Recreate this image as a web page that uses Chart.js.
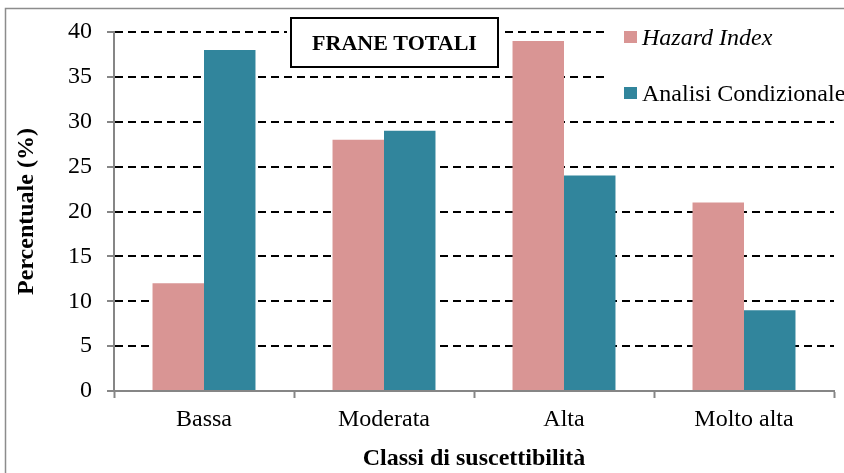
<!DOCTYPE html>
<html>
<head>
<meta charset="utf-8">
<script src="https://cdn.jsdelivr.net/npm/chart.js@4.4.0/dist/chart.umd.min.js"></script>
<style>
  body { margin: 0; background: #fff; }
  canvas { display: block; }
</style>
</head>
<body>
<canvas id="myBarChart" width="844" height="473"></canvas>
<script>
const classi = ["Bassa", "Moderata", "Alta", "Molto alta"];
const hazardIndex = [12, 28, 39, 21];
const analisiCondizionale = [38, 29, 24, 9];
const yTicks = [0, 5, 10, 15, 20, 25, 30, 35, 40];
const chartTitle = "FRANE TOTALI";

const serif = "'Liberation Serif', 'Times New Roman', serif";
Chart.defaults.font.family = serif;
Chart.defaults.font.size = 24;
Chart.defaults.color = "#000";

// grey frame round the whole picture
const framePlugin = {
  id: "frame",
  beforeDraw(chart) {
    const c = chart.ctx;
    c.save();
    c.fillStyle = "#fff";
    c.fillRect(0, 0, chart.width, chart.height);
    c.strokeStyle = "#8c8c8c";
    c.lineWidth = 1.5;
    c.strokeRect(5.5, 8.5, 1000, 1000);
    c.restore();
  }
};

// boxed title and legend inside the plot
const boxesPlugin = {
  id: "boxes",
  afterDraw(chart) {
    const c = chart.ctx;
    c.save();
    // title
    c.fillStyle = "#fff";
    c.fillRect(287, 15, 216, 56);
    c.strokeStyle = "#000";
    c.lineWidth = 2;
    c.strokeRect(291, 18, 207, 49);
    c.fillStyle = "#000";
    c.font = "bold 22px " + serif;
    c.textAlign = "center";
    c.textBaseline = "alphabetic";
    c.fillText(chartTitle, 394.5, 49.5);

    // legend
    c.fillStyle = "#fff";
    c.fillRect(605, 18, 239, 94);
    const styles = ["italic", "normal"];
    const rows = [45, 101];
    c.textAlign = "left";
    chart.data.datasets.forEach((ds, i) => {
      c.fillStyle = ds.backgroundColor;
      c.fillRect(624, rows[i] - 14, 13, 12);
      c.fillStyle = "#000";
      c.font = styles[i] + " 24px " + serif;
      c.fillText(ds.label, 642, rows[i]);
    });
    c.restore();
  }
};

const data = {
  labels: classi,
  datasets: [
    {
      label: "Hazard Index",
      backgroundColor: "#d99594",
      data: hazardIndex,
    },
    {
      label: "Analisi Condizionale",
      backgroundColor: "#31859c",
      data: analisiCondizionale,
    },
  ],
};

const config = {
  type: "bar",
  data: data,
  options: {
    responsive: false,
    animation: false,
    categoryPercentage: 0.572,
    barPercentage: 1.0,
    layout: { padding: { top: 32, right: 10, left: 0, bottom: 0 } },
    plugins: {
      legend: { display: false },
      tooltip: { enabled: false },
    },
    scales: {
      x: {
        grid: {
          offset: true,
          drawOnChartArea: false,
          tickLength: 7,
          tickColor: "#868686",
          tickWidth: 2,
        },
        border: { color: "#868686", width: 2 },
        ticks: { padding: 7, font: { size: 24 } },
        title: {
          display: true,
          text: "Classi di suscettibilità",
          font: { size: 24, weight: "bold" },
          padding: { top: 0, bottom: 0 },
        },
        afterFit: (s) => { s.height = 82; },
      },
      y: {
        min: 0,
        max: 40,
        afterBuildTicks: (s) => { s.ticks = yTicks.map((v) => ({ value: v })); },
        grid: {
          color: (ctx) => (ctx.tick && ctx.tick.value === 0 ? "rgba(0,0,0,0)" : "#000"),
          lineWidth: 2,
          tickLength: 7,
          tickColor: "#868686",
          tickWidth: 2,
        },
        border: { color: "#868686", width: 2, dash: [8, 5] },
        ticks: { padding: 15, font: { size: 24 } },
        title: {
          display: true,
          text: "Percentuale (%)",
          font: { size: 24, weight: "bold" },
          padding: { top: 12, bottom: 0 },
        },
        afterFit: (s) => { s.width = 114; },
      },
    },
  },
  plugins: [framePlugin, boxesPlugin],
};

const ctx = document.getElementById("myBarChart").getContext("2d");
const myBarChart = new Chart(ctx, config);
</script>
</body>
</html>
